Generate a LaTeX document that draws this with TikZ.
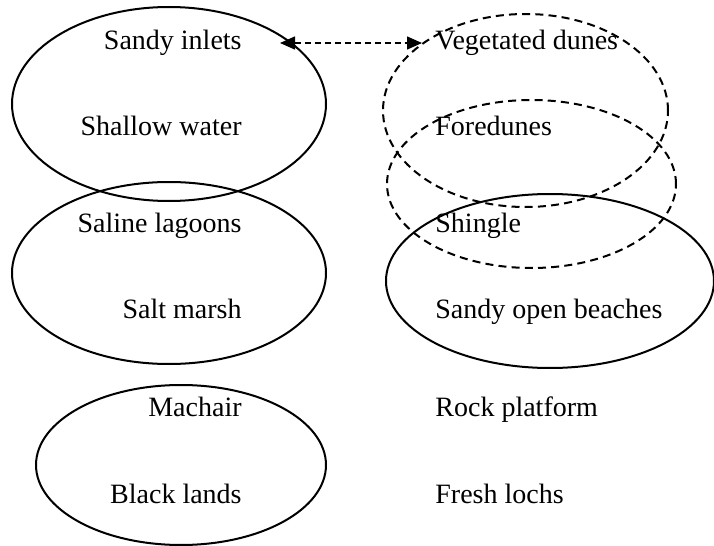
\documentclass[tikz,border=0pt]{standalone}
\usepackage{fontspec}
\setmainfont{Liberation Serif}
\usepackage{tikz}
\usetikzlibrary{arrows.meta}
\usetikzlibrary{shapes.geometric}
\usetikzlibrary{positioning}
\tikzset{
    zone/.style={ellipse, draw, line width=1pt, inner sep=0pt},
    dunezone/.style={zone, dash pattern=on 4pt off 2.6pt},
    habitat/.style={inner sep=0pt, text height=10pt, text depth=4pt,
                    font=\fontsize{14pt}{16pt}\selectfont},
}

\begin{document}
\begin{tikzpicture}[x=0.5pt, y=-0.5pt]

    \useasboundingbox (0,0) rectangle (714,546);

    % solid zones
    \node[zone, minimum width=157pt, minimum height=97pt] (inletzone) at (169,104) {};
    \node[zone, minimum width=157pt, minimum height=91pt] (marshzone) at (169,273) {};
    \node[zone, minimum width=145pt, minimum height=80pt] (machairzone) at (181,465) {};
    \node[zone, minimum width=164pt, minimum height=87pt] (beachzone) at (550,281) {};

    % dashed zones
    \node[dunezone, minimum width=142.5pt, minimum height=96.5pt] (dunezone) at (525.5,110.5) {};
    \node[dunezone, minimum width=144.5pt, minimum height=84pt] (forezone) at (531.5,184) {};

    % left column
    \begin{scope}[every node/.style={habitat, anchor=base east}]
        \node (inlets) at (242,49) {Sandy inlets};
        \node (shallow) at (242,135) {Shallow water};
        \node (lagoons) at (242,232) {Saline lagoons};
        \node (marsh) at (242,318) {Salt marsh};
        \node (machair) at (242,416) {Machair};
        \node (black) at (242,503) {Black lands};
    \end{scope}

    % right column
    \begin{scope}[every node/.style={habitat, anchor=base west}]
        \node (vegetated) at (435,49) {Vegetated dunes};
        \node (foredunes) at (435,135) {Foredunes};
        \node (shingle) at (435,232) {Shingle};
        \node (beaches) at (435,318) {Sandy open beaches};
        \node (rock) at (435,416) {Rock platform};
        \node (lochs) at (435,503) {Fresh lochs};
    \end{scope}

    % link
    \draw[{Triangle[length=7.5pt, width=6.5pt]}-{Triangle[length=7.5pt, width=6.5pt]},
          line width=0.75pt, dash pattern=on 3pt off 2pt,
          shorten <=19pt, shorten >=6.5pt] (inlets.east) -- (vegetated.west);

\end{tikzpicture}
\end{document}
